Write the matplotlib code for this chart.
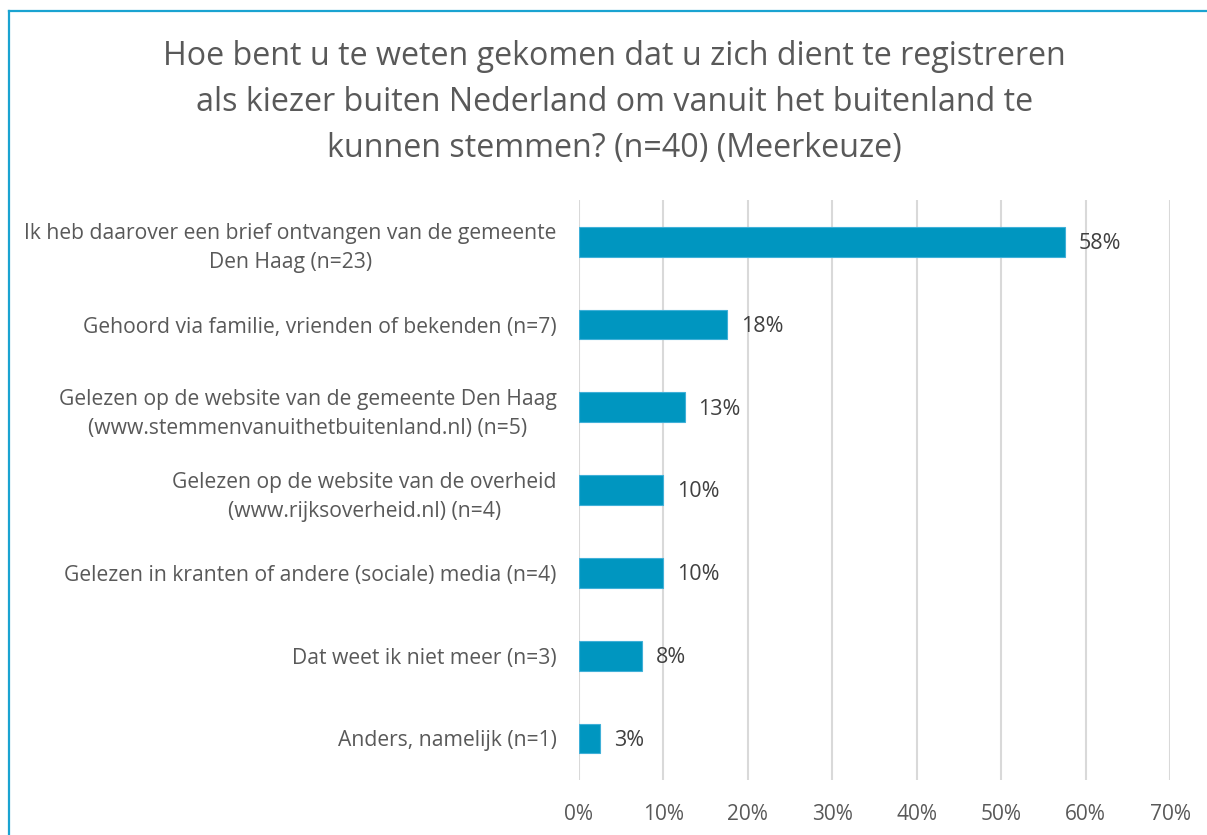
import matplotlib

matplotlib.use("Agg")

import matplotlib.pyplot as plt
from matplotlib.lines import Line2D
from matplotlib.ticker import PercentFormatter

categories = [
    "Ik heb daarover een brief ontvangen van de gemeente\nDen Haag (n=23)",
    "Gehoord via familie, vrienden of bekenden (n=7)",
    "Gelezen op de website van de gemeente Den Haag\n(www.stemmenvanuithetbuitenland.nl) (n=5)",
    "Gelezen op de website van de overheid\n(www.rijksoverheid.nl) (n=4)",
    "Gelezen in kranten of andere (sociale) media (n=4)",
    "Dat weet ik niet meer (n=3)",
    "Anders, namelijk (n=1)",
]
shares = [0.575, 0.175, 0.125, 0.10, 0.10, 0.075, 0.025]
value_labels = ["58%", "18%", "13%", "10%", "10%", "8%", "3%"]
x_ticks = [0.0, 0.1, 0.2, 0.3, 0.4, 0.5, 0.6, 0.7]

title = ("Hoe bent u te weten gekomen dat u zich dient te registreren\n"
         "als kiezer buiten Nederland om vanuit het buitenland te\n"
         "kunnen stemmen? (n=40) (Meerkeuze)")

text_color = "#595959"
bar_color = "#0096C0"
border_color = "#1AA3D1"

plt.rcParams["font.family"] = ["Open Sans", "DejaVu Sans"]

fig = plt.figure(figsize=(12.07, 8.35), dpi=100)
ax = fig.add_axes([0.4797, 0.066, 0.4897, 0.694])

positions = list(range(len(categories)))
ax.barh(positions, shares, height=0.36, color=bar_color,
        edgecolor="#40B0D8", linewidth=0.8, zorder=3)
for pos, share, label in zip(positions, shares, value_labels):
    ax.annotate(label, (share, pos), xytext=(10, -1.2), textcoords="offset points",
                va="center", ha="left", fontsize=15.5, color="#404040")

ax.set_xlim(0, 0.7)
ax.set_ylim(len(categories) - 0.5, -0.5)
ax.set_xticks(x_ticks)
ax.xaxis.set_major_formatter(PercentFormatter(1.0, decimals=0))
ax.set_yticks(positions)
ax.set_yticklabels(categories)
for lbl in ax.get_yticklabels():
    lbl.set_multialignment("center")
    lbl.set_linespacing(1.5)

ax.tick_params(axis="both", length=0, colors=text_color)
ax.tick_params(axis="y", pad=16, labelsize=15.2)
ax.tick_params(axis="x", pad=17, labelsize=15)
ax.grid(axis="x", color="#D9D9D9", linewidth=1.5, zorder=0)
for spine in ax.spines.values():
    spine.set_visible(False)

fig.text(0.509, 0.877, title, ha="center", va="center", fontsize=23.2,
         color=text_color, linespacing=1.52)

# border of the chart area (only top and left edges are visible)
fig.add_artist(Line2D([9 / 1207, 9 / 1207], [0, 1 - 11 / 835],
                      color=border_color, linewidth=1.6))
fig.add_artist(Line2D([9 / 1207, 1], [1 - 11 / 835, 1 - 11 / 835],
                      color=border_color, linewidth=1.6))

fig.savefig("out.png", dpi=100)
plt.close(fig)
